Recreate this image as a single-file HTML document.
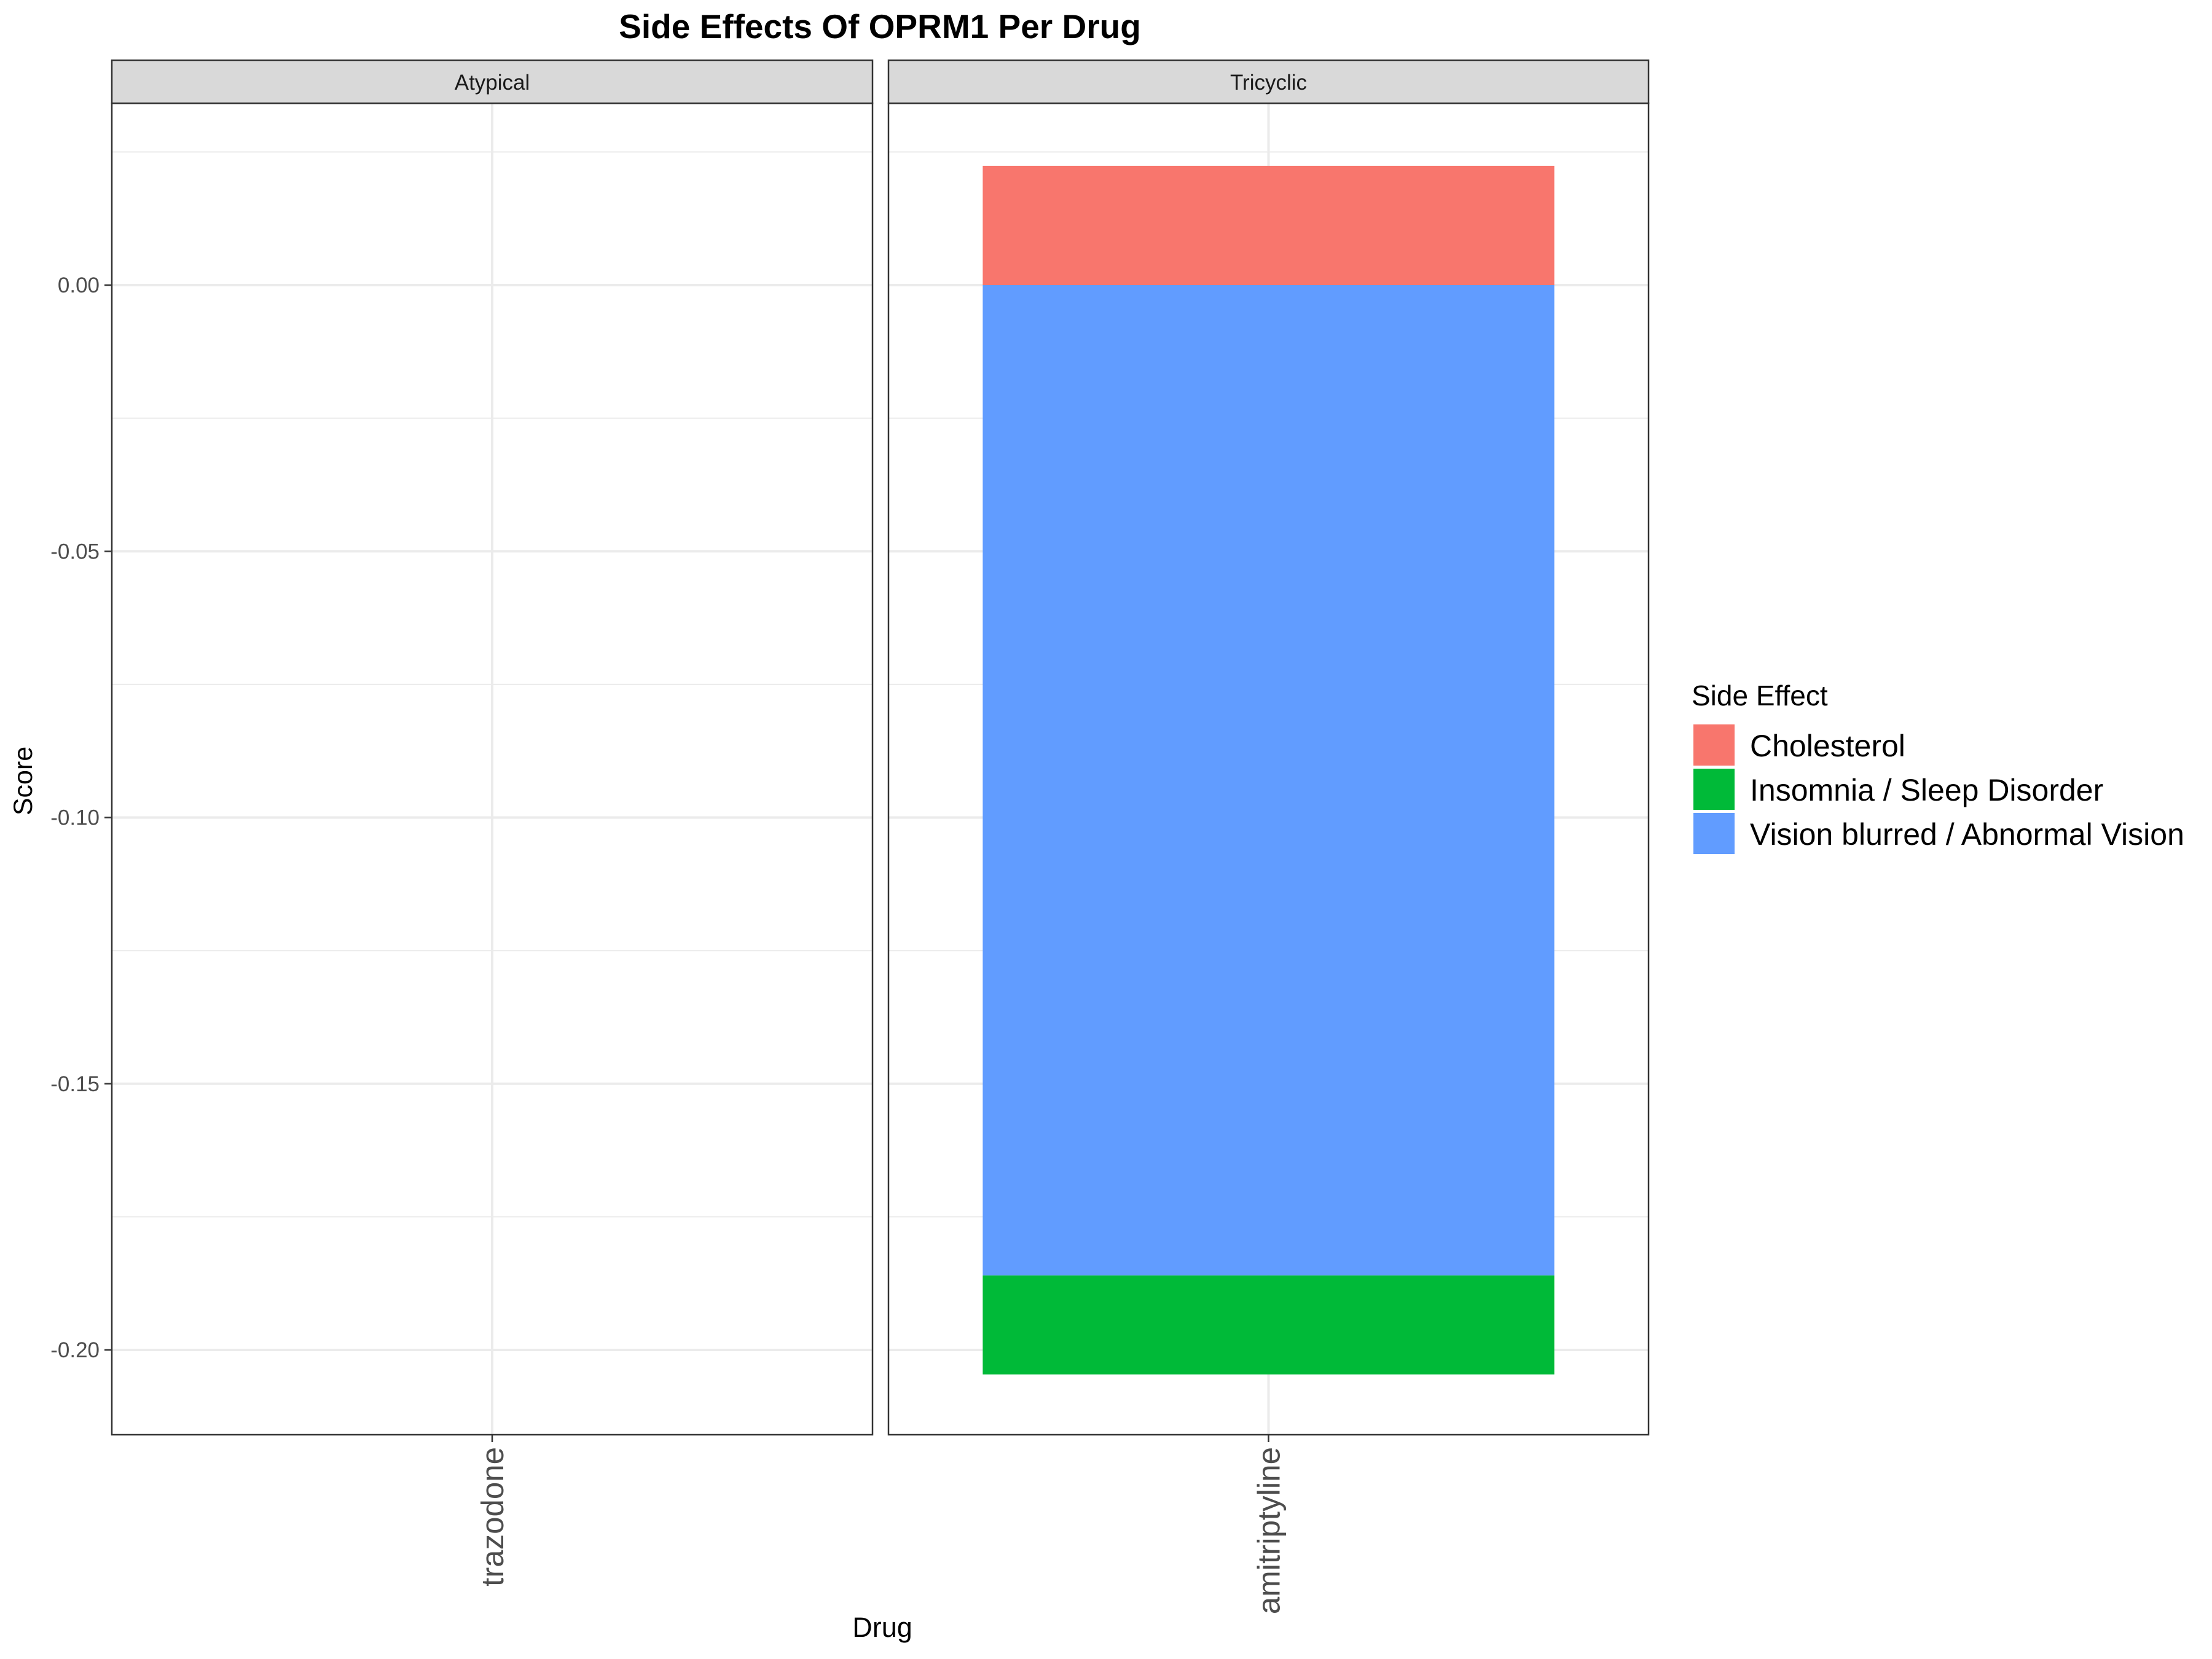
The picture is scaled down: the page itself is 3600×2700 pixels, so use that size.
<!DOCTYPE html>
<html><head><meta charset="utf-8"><style>
html,body{margin:0;padding:0;background:#fff;}
svg{display:block;font-family:"Liberation Sans",sans-serif;}
</style></head><body>
<svg id="chart" width="3600" height="2700" viewBox="0 0 3600 2700" xmlns="http://www.w3.org/2000/svg">
<text x="1432" y="62" font-size="55" font-weight="bold" text-anchor="middle" fill="#000">Side Effects Of OPRM1 Per Drug</text>
<g id="grid"></g>
<g id="bars"></g>
<g id="frames"></g>
<text transform="translate(52,1271) rotate(-90)" font-size="43" text-anchor="middle" fill="#000">Score</text>
<text x="1436" y="2664" font-size="45" text-anchor="middle" fill="#000">Drug</text>
<g>
<text x="2753" y="1148" font-size="46" fill="#000">Side Effect</text>
<g id="legend-items"></g>
</g>
</svg>
<script>
const panels = ["Atypical", "Tricyclic"];
const drugs = ["trazodone", "amitriptyline"];
const seriesNames = ["Cholesterol", "Insomnia / Sleep Disorder", "Vision blurred / Abnormal Vision"];
const cholesterol = [0, 0.0224];
const insomnia = [0, -0.0186];
const vision = [0, -0.186];
const yTicks = [0, -0.05, -0.10, -0.15, -0.20];
const yTickLabels = ["0.00", "-0.05", "-0.10", "-0.15", "-0.20"];
const yMinor = [0.025, -0.025, -0.075, -0.125, -0.175];

const colors = ["#F8766D", "#00BA38", "#619CFF"];
const NS = "http://www.w3.org/2000/svg";
const plotTop = 168, plotBottom = 2335;
const panelX = [[182, 1420], [1446, 2683]];
function y(v) { return 464 - v * 8665; }
function mk(tag, attrs, parent) {
  const e = document.createElementNS(NS, tag);
  for (const k in attrs) e.setAttribute(k, attrs[k]);
  parent.appendChild(e);
  return e;
}
const grid = document.getElementById('grid');
const bars = document.getElementById('bars');
const frames = document.getElementById('frames');

panels.forEach((p, i) => {
  const [x0, x1] = panelX[i];
  const cx = (x0 + x1) / 2;
  yMinor.forEach(v => {
    const l = mk('line', {x1: x0, x2: x1, y1: y(v), y2: y(v), stroke: '#ebebeb', 'stroke-width': 2}, grid);
    
    
  });
  yTicks.forEach(v => {
    const l = mk('line', {x1: x0, x2: x1, y1: y(v), y2: y(v), stroke: '#ebebeb', 'stroke-width': 4}, grid);
    
    
  });
  const vl = mk('line', {x1: cx, x2: cx, y1: plotTop, y2: plotBottom, stroke: '#ebebeb', 'stroke-width': 4}, grid);
  
  

  const bw = (x1 - x0) * 0.752;
  const bx = cx - bw / 2;
  const segs = [
    {v0: 0, v1: cholesterol[i], c: colors[0], n: 'bar-cholesterol'},
    {v0: 0, v1: vision[i], c: colors[2], n: 'bar-vision'},
    {v0: vision[i], v1: vision[i] + insomnia[i], c: colors[1], n: 'bar-insomnia'}
  ];
  segs.forEach(s => {
    if (s.v1 === s.v0) return;
    const top = Math.min(y(s.v0), y(s.v1)), h = Math.abs(y(s.v1) - y(s.v0));
    const r = mk('rect', {x: bx, y: top, width: bw, height: h, fill: s.c}, bars);
    
    
  });

  const fr = mk('rect', {x: x0, y: plotTop, width: x1 - x0, height: plotBottom - plotTop, fill: 'none', stroke: '#333', 'stroke-width': 2.5}, frames);
  
  
  const st = mk('rect', {x: x0, y: 98, width: x1 - x0, height: 70, fill: '#d9d9d9', stroke: '#333', 'stroke-width': 2.5}, frames);
  
  
  const stt = mk('text', {x: cx, y: 146, 'font-size': 35, 'text-anchor': 'middle', fill: '#1a1a1a'}, frames);
  stt.textContent = p;
  
  

  const tk = mk('line', {x1: cx, x2: cx, y1: plotBottom, y2: plotBottom + 12, stroke: '#333', 'stroke-width': 2.5}, frames);
  
  
  const xl = mk('text', {transform: `translate(${cx + 18},${plotBottom + 20}) rotate(-90)`, 'font-size': 51, 'text-anchor': 'end', fill: '#4d4d4d'}, frames);
  xl.textContent = drugs[i];
  
  
});

yTicks.forEach((v, j) => {
  const t = mk('line', {x1: 170, x2: 182, y1: y(v), y2: y(v), stroke: '#333', 'stroke-width': 2.5}, frames);
  
  
  const lbl = mk('text', {x: 162, y: y(v) + 12, 'font-size': 35, 'text-anchor': 'end', fill: '#4d4d4d'}, frames);
  lbl.textContent = yTickLabels[j];
  
  
});

const li = document.getElementById('legend-items');
seriesNames.forEach((n, k) => {
  const top = 1179 + k * 72;
  const r = mk('rect', {x: 2756, y: top, width: 67, height: 67, fill: colors[k]}, li);
  
  
  const t = mk('text', {x: 2848, y: top + 52, 'font-size': 50, fill: '#000'}, li);
  t.textContent = n;
  
  
});
</script>
</body></html>
